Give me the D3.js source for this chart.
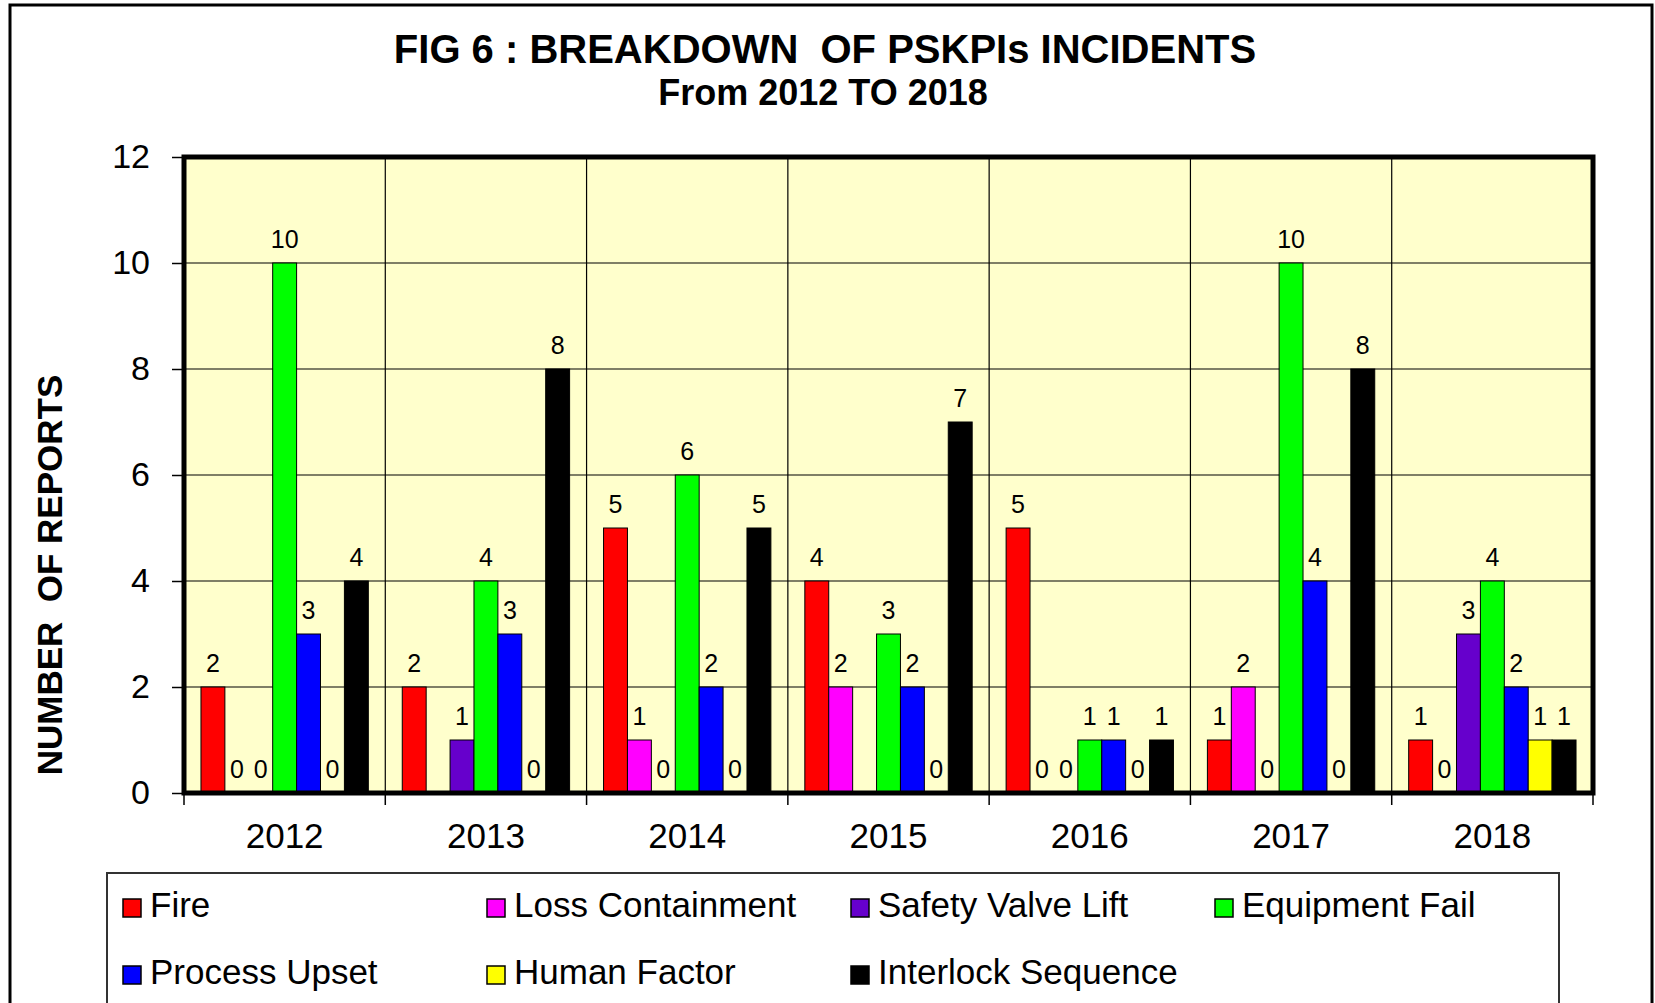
<!DOCTYPE html>
<html>
<head>
<meta charset="utf-8">
<script src="https://cdn.jsdelivr.net/npm/d3@7"></script>
<style>
  body { margin: 0; background: #fff; }
  text { font-family: "Liberation Sans", Arial, sans-serif; fill: #000; }
</style>
</head>
<body>
<svg id="chart_svg" width="1655" height="1003"></svg>
<script>
// Chart data
var years = ["2012", "2013", "2014", "2015", "2016", "2017", "2018"];
var seriesNames = ["Fire", "Loss Containment", "Safety Valve Lift", "Equipment Fail",
                   "Process Upset", "Human Factor", "Interlock Sequence"];
var seriesColors = ["#ff0000", "#ff00ff", "#6600cc", "#00ff00", "#0000ff", "#ffff00", "#000000"];

// values per year (null = no value shown)
var fire              = [2, 2, 5, 4, 5, 1, 1];
var lossContainment   = [0, null, 1, 2, 0, 2, 0];
var safetyValveLift   = [0, 1, 0, null, 0, 0, 3];
var equipmentFail     = [10, 4, 6, 3, 1, 10, 4];
var processUpset      = [3, 3, 2, 2, 1, 4, 2];
var humanFactor       = [0, 0, 0, 0, 0, 0, 1];
var interlockSequence = [4, 8, 5, 7, 1, 8, 1];

var yTicks = [0, 2, 4, 6, 8, 10, 12];

var seriesValues = [fire, lossContainment, safetyValveLift, equipmentFail,
                    processUpset, humanFactor, interlockSequence];

// Plot area
var plot = {left: 184, right: 1593, top: 157, bottom: 793};

var svg = d3.select("#chart_svg");

// outer chart frame
svg.append("rect")
    .attr("x", 10).attr("y", 5)
    .attr("width", 1642).attr("height", 1100)
    .attr("fill", "#fff")
    .attr("stroke", "#000")
    .attr("stroke-width", 3);

// Scales
var x0 = d3.scaleBand()
    .domain(years)
    .range([plot.left, plot.right])
    .paddingInner(0).paddingOuter(0);

var x1 = d3.scaleBand()
    .domain(seriesNames)
    .range([0, x0.bandwidth()])
    .paddingInner(0).paddingOuter(0.71);

var y = d3.scaleLinear()
    .domain([0, 12])
    .range([plot.bottom, plot.top]);

// plot background
svg.append("rect")
    .attr("x", plot.left).attr("y", plot.top)
    .attr("width", plot.right - plot.left)
    .attr("height", plot.bottom - plot.top)
    .attr("fill", "#ffffcc");

// horizontal gridlines
svg.append("g")
    .selectAll("line")
    .data(yTicks.slice(1, -1))
    .enter()
    .append("line")
        .attr("x1", plot.left).attr("x2", plot.right)
        .attr("y1", function(d) { return y(d); })
        .attr("y2", function(d) { return y(d); })
        .attr("stroke", "#000")
        .attr("stroke-width", 1.2);

// vertical separators between years
var boundaries = years.slice(1).map(function(d) { return x0(d); });
svg.append("g")
    .selectAll("line")
    .data(boundaries)
    .enter()
    .append("line")
        .attr("x1", function(d) { return d; })
        .attr("x2", function(d) { return d; })
        .attr("y1", plot.top).attr("y2", plot.bottom)
        .attr("stroke", "#000")
        .attr("stroke-width", 1.2);

// Build bar records
var barData = [];
years.forEach(function(yr, i) {
    seriesNames.forEach(function(s, j) {
        barData.push({year: yr, series: s, color: seriesColors[j], value: seriesValues[j][i]});
    });
});

var bars_g = svg.append("g");
bars_g.selectAll("rect")
    .data(barData.filter(function(d) { return d.value; }))
    .enter()
    .append("rect")
        .attr("x", function(d) { return x0(d.year) + x1(d.series); })
        .attr("width", x1.bandwidth())
        .attr("y", function(d) { return y(d.value); })
        .attr("height", function(d) { return y(0) - y(d.value); })
        .attr("fill", function(d) { return d.color; })
        .attr("stroke", "#000")
        .attr("stroke-width", 1);

// value labels
svg.append("g")
    .selectAll("text")
    .data(barData.filter(function(d) { return d.value !== null; }))
    .enter()
    .append("text")
        .attr("x", function(d) { return x0(d.year) + x1(d.series) + x1.bandwidth() / 2; })
        .attr("y", function(d) { return y(d.value) - 15; })
        .attr("text-anchor", "middle")
        .style("font-size", "25px")
        .text(function(d) { return d.value; });

// plot frame (thick)
svg.append("rect")
    .attr("x", plot.left).attr("y", plot.top)
    .attr("width", plot.right - plot.left)
    .attr("height", plot.bottom - plot.top)
    .attr("fill", "none")
    .attr("stroke", "#000")
    .attr("stroke-width", 5);

// Y axis
var yAxis = svg.append("g")
    .attr("transform", "translate(" + (plot.left - 2) + ",0)")
    .call(d3.axisLeft(y).tickValues(yTicks).tickSize(10).tickPadding(22));
yAxis.select(".domain").remove();
yAxis.selectAll("line").attr("stroke", "#000").attr("stroke-width", 1.5);
yAxis.selectAll("text")
    .style("font-family", "'Liberation Sans', Arial, sans-serif")
    .style("font-size", "34px");

// X axis labels
var xAxis = svg.append("g")
    .attr("transform", "translate(0," + plot.bottom + ")")
    .call(d3.axisBottom(x0).tickSize(0).tickPadding(30));
xAxis.select(".domain").remove();
xAxis.selectAll("text")
    .style("font-family", "'Liberation Sans', Arial, sans-serif")
    .style("font-size", "35px");

// X tick marks at year boundaries
svg.append("g")
    .selectAll("line")
    .data(years.map(function(d) { return x0(d); }).concat([plot.right]))
    .enter()
    .append("line")
        .attr("x1", function(d) { return d; })
        .attr("x2", function(d) { return d; })
        .attr("y1", plot.bottom).attr("y2", plot.bottom + 12)
        .attr("stroke", "#000")
        .attr("stroke-width", 1.5);

// Titles
svg.append("text")
    .attr("x", 825).attr("y", 63)
    .attr("text-anchor", "middle")
    .style("font-weight", "bold")
    .style("font-size", "40px")
    .style("white-space", "pre")
    .text("FIG 6 : BREAKDOWN  OF PSKPIs INCIDENTS");

svg.append("text")
    .attr("x", 823).attr("y", 105)
    .attr("text-anchor", "middle")
    .style("font-weight", "bold")
    .style("font-size", "36px")
    .text("From 2012 TO 2018");

svg.append("text")
    .attr("transform", "translate(62,575) rotate(-90)")
    .attr("text-anchor", "middle")
    .style("font-weight", "bold")
    .style("font-size", "35px")
    .style("white-space", "pre")
    .text("NUMBER  OF REPORTS");

// Legend
svg.append("rect")
    .attr("x", 107).attr("y", 873)
    .attr("width", 1452).attr("height", 200)
    .attr("fill", "#fff")
    .attr("stroke", "#333")
    .attr("stroke-width", 2);

var legend = svg.append("g")
    .selectAll("g")
    .data(seriesNames)
    .enter()
    .append("g")
        .attr("transform", function(d, i) {
            return "translate(" + (123 + (i % 4) * 364) + "," + (917 + Math.floor(i / 4) * 67) + ")";
        });

legend.append("rect")
    .attr("x", 0).attr("y", -18)
    .attr("width", 18).attr("height", 18)
    .attr("fill", function(d, i) { return seriesColors[i]; })
    .attr("stroke", "#000")
    .attr("stroke-width", 1.5);

legend.append("text")
    .attr("x", 27).attr("y", 0)
    .style("font-size", "35px")
    .text(function(d) { return d; });
</script>
</body>
</html>
